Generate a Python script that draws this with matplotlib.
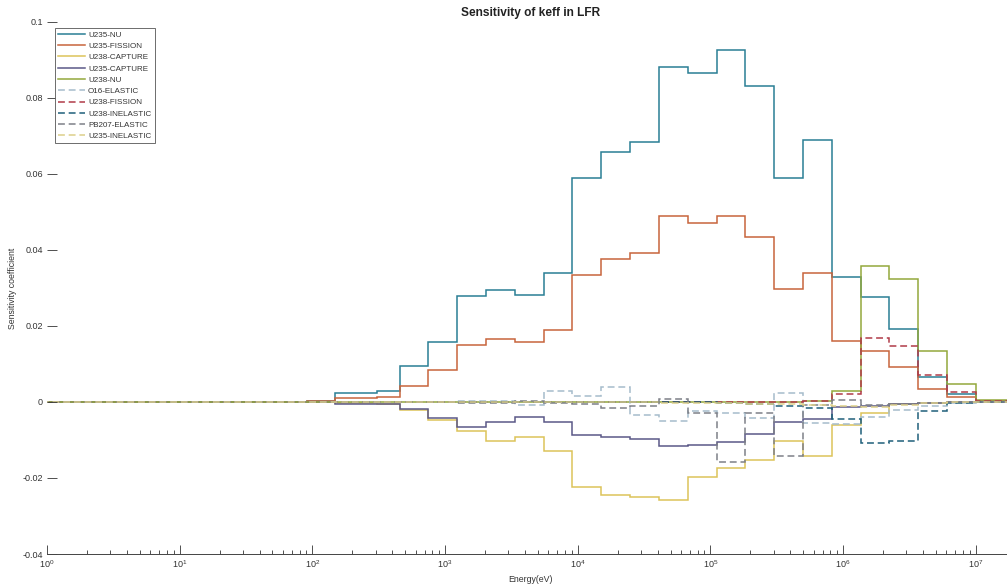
import matplotlib
matplotlib.use("Agg")
import matplotlib.pyplot as plt
import numpy as np

plt.rcParams['font.family'] = ['Liberation Sans', 'DejaVu Sans']
plt.rcParams['mathtext.fontset'] = 'custom'
plt.rcParams['mathtext.rm'] = 'Liberation Sans'
plt.rcParams['mathtext.it'] = 'Liberation Sans'

# 33-group energy boundaries (eV), ascending
energy_edges = [1e-5, 0.1, 0.54, 4.0, 8.315, 13.71, 22.6, 40.17, 67.9, 91.66,
                148.6, 304.3, 454.0, 748.5, 1234.0, 2035.0, 3355.0, 5531.0,
                9119.0, 15030.0, 24790.0, 40870.0, 67380.0, 111100.0,
                183200.0, 302000.0, 497900.0, 820900.0, 1353000.0,
                2231000.0, 3679000.0, 6065000.0, 1.0e7, 1.964e7]

# sensitivity per group, lowest energy group first
u235_nu = [0, 0, 0, 0, 0, 0, 0, 0, 0, 0.0003,
           0.0024, 0.0028, 0.0095, 0.0157, 0.0280, 0.0294, 0.0282, 0.0340,
           0.0588, 0.0658, 0.0685, 0.0882, 0.0865, 0.0925, 0.0830, 0.0590,
           0.0690, 0.0330, 0.0277, 0.0192, 0.0066, 0.0022, 0.0003]
u235_fission = [0, 0, 0, 0, 0, 0, 0, 0, 0, 0.0002,
                0.0010, 0.0014, 0.0043, 0.0083, 0.0150, 0.0165, 0.0159, 0.0190,
                0.0335, 0.0376, 0.0391, 0.0490, 0.0470, 0.0490, 0.0435, 0.0297,
                0.0340, 0.0161, 0.0135, 0.0091, 0.0033, 0.0014, 0.0002]
u238_capture = [0, 0, 0, 0, 0, 0, 0, 0, 0, -0.0001,
                -0.0003, -0.0005, -0.0021, -0.0048, -0.0077, -0.0102, -0.0093, -0.0130,
                -0.0224, -0.0246, -0.0249, -0.0257, -0.0197, -0.0175, -0.0152, -0.0103,
                -0.0142, -0.0060, -0.0028, -0.0006, -0.0002, -0.0001, 0]
u235_capture = [0, 0, 0, 0, 0, 0, 0, 0, 0, -0.0001,
                -0.0006, -0.0005, -0.0019, -0.0042, -0.0065, -0.0054, -0.0040, -0.0054,
                -0.0087, -0.0093, -0.0097, -0.0117, -0.0112, -0.0104, -0.0083, -0.0052,
                -0.0045, -0.0012, -0.0010, -0.0005, -0.0002, -0.0001, 0]
u238_nu = [0, 0, 0, 0, 0, 0, 0, 0, 0, 0,
           0, 0, 0, 0, 0, 0, 0, 0,
           0, 0, 0, 0, 0, 0, 0, 0.0001,
           0.0003, 0.0028, 0.0359, 0.0324, 0.0135, 0.0047, 0.0005]
o16_elastic = [0, 0, 0, 0, 0, 0, 0, 0, 0, 0,
               0, 0, 0, 0, 0.0002, 0.0003, -0.0007, 0.0030,
               0.0017, 0.0039, -0.0033, -0.0050, -0.0025, -0.0028, -0.0042, 0.0023,
               -0.0056, -0.0057, -0.0039, -0.0020, -0.0010, -0.0003, 0]
u238_fission = [0, 0, 0, 0, 0, 0, 0, 0, 0, 0,
                0, 0, 0, 0, 0, 0, 0, 0,
                0, 0, 0, 0, 0, 0, 0, 0,
                0.0003, 0.0022, 0.0169, 0.0146, 0.0072, 0.0025, 0.0003]
u238_inelastic = [0, 0, 0, 0, 0, 0, 0, 0, 0, 0,
                  0, 0, 0, 0, 0, 0, 0, 0,
                  0, 0, 0, 0, 0, -0.0003, -0.0006, -0.0010,
                  -0.0016, -0.0044, -0.0109, -0.0102, -0.0025, -0.0004, 0]
pb207_elastic = [0, 0, 0, 0, 0, 0, 0, 0, 0, 0,
                 0, 0, 0, 0, -0.0002, -0.0003, 0.0002, -0.0004,
                 -0.0006, -0.0016, -0.0010, 0.0008, -0.0030, -0.0157, -0.0028, -0.0142,
                 -0.0008, 0.0005, -0.0008, -0.0005, -0.0002, 0, 0]
u235_inelastic = [0, 0, 0, 0, 0, 0, 0, 0, 0, 0,
                  0, 0, 0, 0, 0, 0, 0, 0,
                  0, 0, 0, -0.0002, -0.0003, -0.0004, -0.0005, -0.0006,
                  -0.0008, -0.0010, -0.0012, -0.0008, -0.0003, -0.0001, 0]

series = [
    ('U235-NU', u235_nu, '#2a7f95', '-'),
    ('U235-FISSION', u235_fission, '#c8643c', '-'),
    ('U238-CAPTURE', u238_capture, '#dcc35a', '-'),
    ('U235-CAPTURE', u235_capture, '#5b5888', '-'),
    ('U238-NU', u238_nu, '#93a83c', '-'),
    ('O16-ELASTIC', o16_elastic, '#a6bccb', '--'),
    ('U238-FISSION', u238_fission, '#b03a48', '--'),
    ('U238-INELASTIC', u238_inelastic, '#1f5f7a', '--'),
    ('PB207-ELASTIC', pb207_elastic, '#7d8088', '--'),
    ('U235-INELASTIC', u235_inelastic, '#ddd08a', '--'),
]

fig = plt.figure(figsize=(10.07, 5.88), dpi=100)
ax = fig.add_axes([0.0467, 0.0578, 0.961, 0.905])

for name, vals, color, ls in series:
    st = ax.stairs(vals, energy_edges, baseline=None, color=color,
                   linewidth=1.1, label=name)
    if ls == '--':
        st.set_linestyle((0, (4.5, 2.5)))

ax.set_xscale('log')
ax.set_xlim(1, 1.964e7)
ax.set_ylim(-0.04, 0.1)

text_color = '#333333'
ax.set_yticks([-0.04, -0.02, 0, 0.02, 0.04, 0.06, 0.08, 0.1])
ax.set_yticklabels(['-0.04', '-0.02', '0', '0.02', '0.04', '0.06', '0.08', '0.1'])
ax.set_xticks([10.0 ** k for k in range(0, 8)])
ax.set_xticklabels([r'$10^{%d}$' % k for k in range(0, 8)])

ax.tick_params(axis='both', which='both', direction='in', colors=text_color,
               labelsize=6.5, width=0.6)
ax.tick_params(axis='x', which='major', length=6.5, pad=3)
ax.tick_params(axis='x', which='minor', length=3)
ax.tick_params(axis='y', which='major', length=7, pad=3)
ax.tick_params(axis='y', which='minor', left=False)

for side in ['top', 'right', 'left']:
    ax.spines[side].set_visible(False)
ax.spines['bottom'].set_color('#444444')
ax.spines['bottom'].set_linewidth(0.7)

ax.set_title('Sensitivity of keff in LFR', fontsize=8.6, fontweight='bold',
             color='#222222', pad=4)
ax.set_xlabel('Energy(eV)', fontsize=6.3, color=text_color, labelpad=4)
ax.set_ylabel('Sensitivity coefficient', fontsize=6.3, color=text_color,
              labelpad=4)

leg = ax.legend(loc='upper left', bbox_to_anchor=(0.0083, 0.9887),
                borderaxespad=0, fontsize=5.8, handlelength=3.3,
                handletextpad=0.4, labelspacing=0.45, borderpad=0.4,
                fancybox=False, framealpha=1)
leg.get_frame().set_edgecolor('#555555')
leg.get_frame().set_linewidth(0.6)
for t in leg.get_texts():
    t.set_color(text_color)

fig.savefig('out.png', dpi=100)
